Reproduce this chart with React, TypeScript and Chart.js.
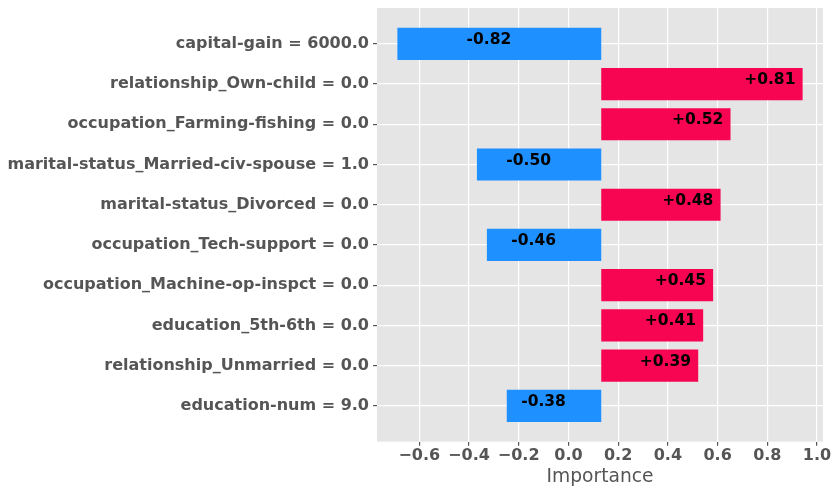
import React, { useEffect, useRef } from "react";
import { Chart, registerables } from "chart.js";

Chart.register(...registerables);

const features = [
  "capital-gain = 6000.0",
  "relationship_Own-child = 0.0",
  "occupation_Farming-fishing = 0.0",
  "marital-status_Married-civ-spouse = 1.0",
  "marital-status_Divorced = 0.0",
  "occupation_Tech-support = 0.0",
  "occupation_Machine-op-inspct = 0.0",
  "education_5th-6th = 0.0",
  "relationship_Unmarried = 0.0",
  "education-num = 9.0",
];
const importance = [-0.82, 0.81, 0.52, -0.5, 0.48, -0.46, 0.45, 0.41, 0.39, -0.38];
const baseValue = 0.132;
const xTicks = [-0.6, -0.4, -0.2, 0.0, 0.2, 0.4, 0.6, 0.8, 1.0];

const POS = "#F70552";
const NEG = "#1E90FF";
const FONT = "'DejaVu Sans', sans-serif";

const fmtTick = (v: number) => (v < 0 ? "\u2212" + Math.abs(v).toFixed(1) : v.toFixed(1));
const fmtVal = (v: number) => (v > 0 ? "+" + v.toFixed(2) : v.toFixed(2));

const barLabels = {
  id: "barLabels",
  afterDatasetsDraw(chart: any) {
    const { ctx, scales } = chart;
    ctx.save();
    ctx.font = `bold 15.5px ${FONT}`;
    ctx.fillStyle = "#000";
    ctx.textAlign = "center";
    ctx.textBaseline = "alphabetic";
    importance.forEach((v, i) => {
      const xv = v > 0 ? v : v / 2 + 0.09;
      ctx.fillText(fmtVal(v), scales.x.getPixelForValue(xv), scales.y.getPixelForValue(i));
    });
    ctx.restore();
  },
};

const plotBg = {
  id: "plotBg",
  beforeDraw(chart: any) {
    const { ctx, chartArea } = chart;
    ctx.save();
    ctx.fillStyle = "#E5E5E5";
    ctx.fillRect(chartArea.left, chartArea.top, chartArea.right - chartArea.left, chartArea.bottom - chartArea.top);
    ctx.restore();
  },
};

export default function App() {
  const ref = useRef<HTMLCanvasElement>(null);
  useEffect(() => {
    if (!ref.current) return;
    const chart = new Chart(ref.current, {
      type: "bar",
      data: {
        datasets: [
          {
            data: importance.map((v, i) => ({ x: [baseValue, baseValue + v], y: i })) as any,
            backgroundColor: importance.map((v) => (v > 0 ? POS : NEG)),
            borderWidth: 0,
            barPercentage: 0.8,
            categoryPercentage: 1.0,
          },
        ],
      },
      options: {
        indexAxis: "y",
        responsive: false,
        animation: false,
        devicePixelRatio: 1,
        layout: { padding: { top: 8, right: 14, left: 0, bottom: 0 } },
        plugins: { legend: { display: false }, tooltip: { enabled: false } },
        scales: {
          x: {
            type: "linear",
            min: -0.77,
            max: 1.024,
            offset: false,
            afterBuildTicks: (s: any) => {
              s.ticks = xTicks.map((v) => ({ value: v }));
            },
            afterFit: (s: any) => {
              s.height = 52.3;
              s.paddingLeft = 0;
              s.paddingRight = 0;
            },
            ticks: {
              callback: (v: any) => fmtTick(Number(v)),
              font: { family: FONT, size: 16, weight: "bold" },
              color: "#555555",
              padding: 1,
              maxRotation: 0,
            },
            grid: { color: "#FFFFFF", lineWidth: 1.2, tickColor: "#555555", tickLength: 4, offset: false },
            border: { display: false },
            title: {
              display: true,
              text: "Importance",
              font: { family: FONT, size: 18.7, weight: "normal" },
              color: "#555555",
              padding: { top: 0, bottom: 6 },
            },
          },
          y: {
            type: "linear",
            min: -0.89,
            max: 9.89,
            reverse: true,
            offset: false,
            afterBuildTicks: (s: any) => {
              s.ticks = features.map((_, i) => ({ value: i }));
            },
            afterFit: (s: any) => {
              s.width = 377;
              s.paddingTop = 0;
              s.paddingBottom = 0;
            },
            ticks: {
              callback: (v: any) => features[Number(v)] ?? "",
              font: { family: FONT, size: 16, weight: "bold" },
              color: "#555555",
              padding: 4,
            },
            grid: { color: "#FFFFFF", lineWidth: 1.2, tickColor: "#555555", tickLength: 4, offset: false },
            border: { display: false },
          },
        },
      },
      plugins: [plotBg, barLabels],
    });
    return () => chart.destroy();
  }, []);
  return (
    <div style={{ position: "absolute", left: 0, top: 0, width: 837, height: 494, background: "#fff" }}>
      <canvas ref={ref} width={837} height={494} style={{ display: "block" }} />
    </div>
  );
}
